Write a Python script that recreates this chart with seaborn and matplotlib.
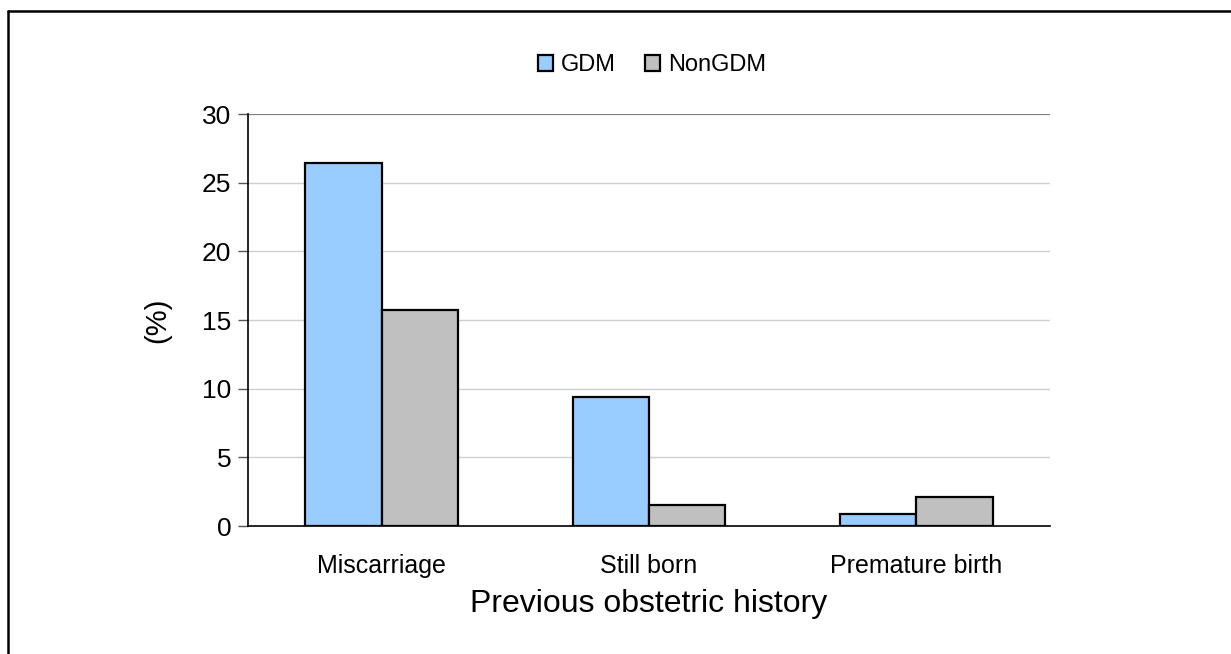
import matplotlib
matplotlib.use("Agg")
import matplotlib.pyplot as plt
import seaborn as sns
import pandas as pd
from matplotlib.lines import Line2D

categories = ["Miscarriage", "Still born", "Premature birth"]
groups = ["GDM", "NonGDM"]
gdm_values = [26.4, 9.4, 0.9]
nongdm_values = [15.7, 1.5, 2.1]
yticks = [0, 5, 10, 15, 20, 25, 30]

df = pd.DataFrame({
    "category": categories * 2,
    "group": ["GDM"] * 3 + ["NonGDM"] * 3,
    "value": gdm_values + nongdm_values,
})

sns.set_style("white")
plt.rcParams["font.family"] = ["Liberation Sans", "DejaVu Sans"]
plt.rcParams["text.color"] = "black"
plt.rcParams["axes.labelcolor"] = "black"
plt.rcParams["xtick.color"] = "black"
plt.rcParams["ytick.color"] = "black"

fig = plt.figure(figsize=(12.31, 6.54), dpi=100)
ax = fig.add_axes([248/1231, 1-526/654, (1050-248)/1231, (526-114)/654])

sns.barplot(data=df, x="category", y="value", hue="group", order=categories,
            hue_order=groups, palette={"GDM": "#99CCFF", "NonGDM": "#C0C0C0"},
            saturation=1, width=0.57, edgecolor="black", linewidth=1.6, ax=ax,
            legend=True, zorder=3)

ax.set_ylim(0, 30)
ax.set_xlim(-0.5, 2.5)
ax.set_yticks(yticks)
ax.set_yticklabels([str(v) for v in yticks], fontsize=19)
for v in yticks[1:-1]:
    ax.axhline(v, color="#cfcfcf", lw=1.0, zorder=0)
ax.axhline(30, color="#808080", lw=1.6, zorder=0)

ax.set_xticks(range(len(categories)))
ax.set_xticklabels(categories, fontsize=18)
ax.tick_params(axis="x", length=0, pad=20)
ax.set_xticks([-0.5, 0.5, 1.5, 2.5], minor=True)
ax.tick_params(axis="x", which="minor", length=7, width=1, color="#555555", direction="out")
ax.tick_params(axis="y", length=7, width=1, color="#555555", direction="out", left=True, pad=5)

for s in ["top", "right"]:
    ax.spines[s].set_visible(False)
for s in ["left", "bottom"]:
    ax.spines[s].set_color("black")
    ax.spines[s].set_linewidth(1.2)

ax.set_xlabel("Previous obstetric history", fontsize=23, labelpad=8)
ax.set_ylabel("(%)", fontsize=21, labelpad=22)

handles, labels = ax.get_legend_handles_labels()
ax.legend_.remove()
fig.legend(handles, labels, loc="center", bbox_to_anchor=(652/1231, 1-65/654),
           ncol=2, frameon=False, fontsize=17, handlelength=0.65, handleheight=0.65,
           handletextpad=0.35, columnspacing=1.2)

fig.add_artist(Line2D([7.5/1231, 1], [1-10.5/654, 1-10.5/654], transform=fig.transFigure,
                      color="black", lw=1.8))
fig.add_artist(Line2D([7.5/1231, 7.5/1231], [0, 1-10.5/654], transform=fig.transFigure,
                      color="black", lw=1.8))

fig.savefig("out.png", dpi=100)
